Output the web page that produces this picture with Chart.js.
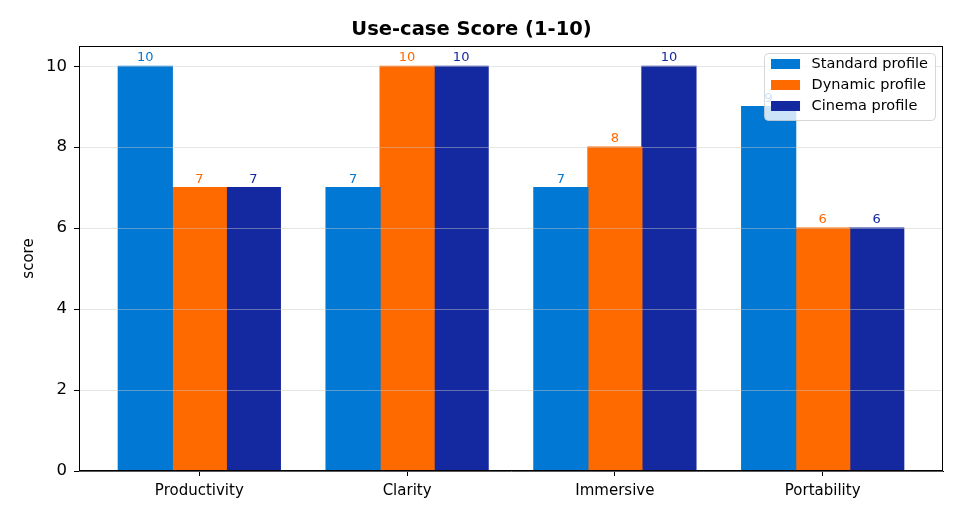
<!DOCTYPE html>
<html>
<head>
<meta charset="utf-8">
<script src="https://cdn.jsdelivr.net/npm/chart.js@4.4.1/dist/chart.umd.min.js"></script>
<style>
  html, body { margin: 0; padding: 0; background: #fff; }
  #wrap { width: 962px; height: 520px; }
</style>
</head>
<body>
<div id="wrap"><canvas id="chart" width="962" height="520"></canvas></div>
<script>
// Use-case score chart: three grouped series across four use cases.

const categories = ['Productivity', 'Clarity', 'Immersive', 'Portability'];
const seriesNames = ['Standard profile', 'Dynamic profile', 'Cinema profile'];
const seriesColors = ['#0078D4', '#FF6A00', '#1428A0'];
const seriesA = [10, 7, 7, 9];
const seriesB = [7, 10, 8, 6];
const seriesC = [7, 10, 10, 6];
const yTicks = [0, 2, 4, 6, 8, 10];

const FONT = 'DejaVu Sans';

/** Value label above each bar, in the bar's colour */
const valueLabels = {
  id: 'valueLabels',
  afterDatasetsDraw(chart) {
    const ctx = chart.ctx;
    ctx.save();
    ctx.font = '13px "' + FONT + '"';
    ctx.textAlign = 'center';
    ctx.textBaseline = 'bottom';
    chart.data.datasets.forEach((ds, di) => {
      const meta = chart.getDatasetMeta(di);
      ctx.fillStyle = ds.backgroundColor;
      meta.data.forEach((bar, i) => {
        ctx.fillText(String(ds.data[i].y), bar.x, bar.y - 2);
      });
    });
    ctx.restore();
  },
};

/** Full box frame + matplotlib-style legend inside the top right */
const frameAndLegend = {
  id: 'frameAndLegend',
  afterDraw(chart) {
    const ctx = chart.ctx;
    const a = chart.chartArea;
    ctx.save();
    ctx.strokeStyle = '#000';
    ctx.lineWidth = 1;
    ctx.strokeRect(Math.round(a.left) + 0.5, Math.round(a.top) + 0.5,
      Math.round(a.right - a.left) - 1, Math.round(a.bottom - a.top) - 1);

    const fs = 14.5;
    ctx.font = fs + 'px "' + FONT + '"';
    const textW = Math.max(...chart.data.datasets.map(d => ctx.measureText(d.label).width));
    const handle = 29, gap = 0.8 * fs, pad = 7;
    const rowH = 21;
    const w = pad + handle + gap + textW + pad;
    const h = 67;
    const x = a.right - 8 - w;
    const y = a.top + 7;

    ctx.beginPath();
    ctx.roundRect(x + 0.5, y + 0.5, w, h, 4);
    ctx.fillStyle = 'rgba(255,255,255,0.8)';
    ctx.fill();
    ctx.strokeStyle = 'rgba(204,204,204,0.8)';
    ctx.stroke();

    ctx.textBaseline = 'middle';
    ctx.textAlign = 'left';
    chart.data.datasets.forEach((ds, i) => {
      const cy = y + 11 + i * rowH;
      ctx.fillStyle = ds.backgroundColor;
      ctx.fillRect(x + pad, cy - 5, handle, 10);
      ctx.fillStyle = '#000';
      ctx.fillText(ds.label, x + pad + handle + gap, cy);
    });
    ctx.restore();
  },
};

const allSeries = [seriesA, seriesB, seriesC];

new Chart(document.getElementById('chart'), {
  type: 'bar',
  data: {
    datasets: allSeries.map((vals, si) => ({
      label: seriesNames[si],
      data: vals.map((v, i) => ({ x: i, y: v })),
      backgroundColor: seriesColors[si],
      borderWidth: 0,
      inflateAmount: 0.6,
      categoryPercentage: 0.78,
      barPercentage: 1,
    })),
  },
  options: {
    responsive: false,
    animation: false,
    devicePixelRatio: 1,
    layout: { padding: { left: 0, right: 19, top: 0, bottom: 0 } },
    plugins: {
      legend: { display: false },
      tooltip: { enabled: false },
      title: {
        display: true,
        text: 'Use-case Score (1-10)',
        color: '#000',
        font: { family: FONT, size: 19.5, weight: 'bold', lineHeight: 1.2 },
        padding: { top: 18, bottom: 4.6 },
      },
    },
    scales: {
      x: {
        type: 'linear',
        offset: false,
        min: -0.579,
        max: 3.579,
        afterBuildTicks: s => { s.ticks = categories.map((c, i) => ({ value: i })); },
        afterFit: s => { s.height = 49; },
        ticks: {
          color: '#000',
          font: { family: FONT, size: 15 },
          padding: 6,
          autoSkip: false,
          maxRotation: 0,
          callback: v => categories[v] ?? '',
        },
        grid: { offset: false, drawOnChartArea: false, color: '#000', tickLength: 5 },
        border: { color: '#000', width: 1 },
      },
      y: {
        min: 0,
        max: 10.5,
        afterBuildTicks: s => { s.ticks = yTicks.map(v => ({ value: v })); },
        afterFit: s => { s.width = 79; },
        ticks: {
          color: '#000',
          font: { family: FONT, size: 16.5 },
          padding: 7,
        },
        grid: { color: 'rgba(200,200,200,0.45)', tickColor: '#000', tickLength: 5, z: 1 },
        border: { display: false },
        title: {
          display: true,
          text: 'score',
          color: '#000',
          font: { family: FONT, size: 15, lineHeight: 1.2 },
          padding: { top: 20 },
        },
      },
    },
  },
  plugins: [valueLabels, frameAndLegend],
});
</script>
</body>
</html>
